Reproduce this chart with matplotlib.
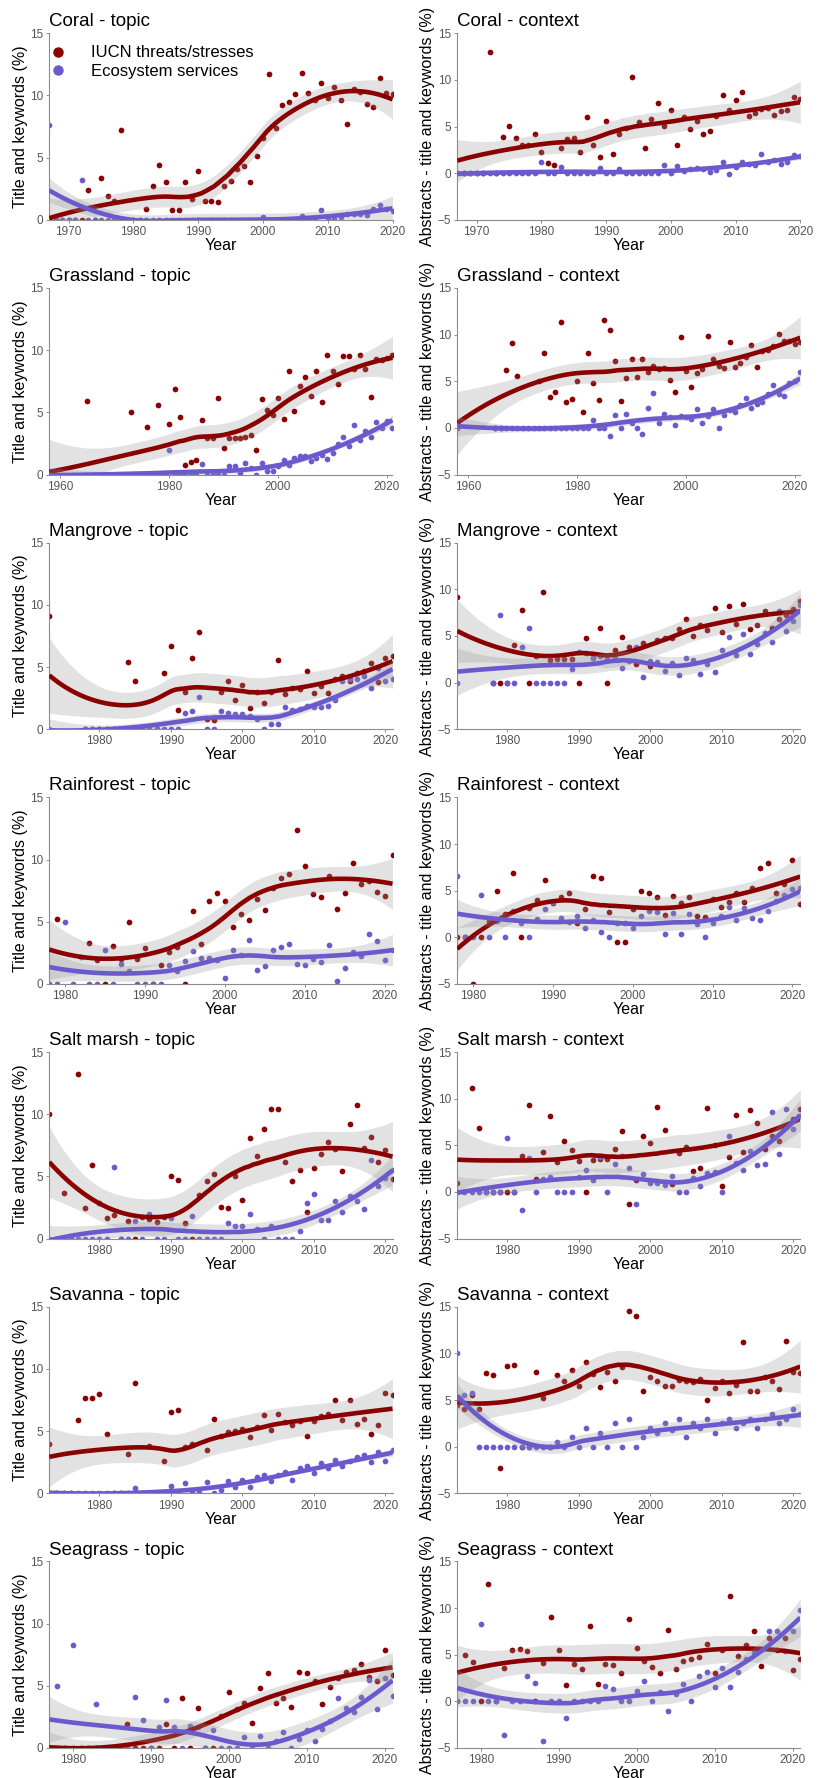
import numpy as np
import matplotlib
matplotlib.use('Agg')
import matplotlib.pyplot as plt
from matplotlib.lines import Line2D

plt.rcParams['font.family'] = ['Liberation Sans', 'DejaVu Sans']

nan = np.nan
RED = '#8B0000'
BLUE = '#6A5ACD'

# --- data: percentage of papers per year -------------------------------------
coral_years = list(range(1967, 2021))
coral_topic_threats = [0, 0, 0, 0, 0, 0, 2.4, 0, 3.4, 1.9,
                       1.5, 7.2, 0, 0, 0, 0.9, 2.75, 4.4, 3.05, 0.75,
                       0.75, 3.05, 1.7, 3.9, 1.55, 1.55, 1.45, 2.7, 3.15, 4.1,
                       4.3, 3.05, 5.1, 6.55, 11.7, 7.4, 9.2, 9.5, 10.1, 11.8,
                       10.2, 9.6, 11.0, 9.8, 10.7, 9.6, 7.7, 10.5, 10.3, 9.3,
                       9.1, 11.4, 10.2, 10.1]
coral_topic_services = [7.6, 0, 0, 0, 0, 3.2, 0, 0, 0, 0,
                        0, 0, 0, 0, 0, 0, 0, 0, 0, 0,
                        0, 0, 0, 0, 0, 0, 0, 0, 0, 0,
                        0, 0, 0, 0.25, 0, 0, 0, 0, 0, 0.3,
                        0, 0, 0.75, 0.1, 0.1, 0.2, 0.5, 0.5, 0.5, 0.35,
                        0.85, 1.2, 0.9, 0.7]
coral_context_threats = [0, 0, 0, 0, 0, 13.0, 0, 3.9, 5.1, 3.8,
                         3.0, 3.0, 4.2, 2.3, 1.1, 0.9, 2.7, 3.65, 3.8, 2.3,
                         6.0, 3.0, 1.75, 5.55, 2.05, 4.25, 4.8, 10.3, 5.45, 2.7,
                         5.8, 7.5, 5.05, 6.8, 3.0, 6.0, 4.75, 5.6, 4.15, 4.5,
                         6.1, 8.4, 6.8, 7.9, 8.7, 6.1, 6.4, 6.9, 7.0, 6.2,
                         6.65, 6.8, 8.2, 8.0]
coral_context_services = [0, 0, 0, 0, 0, 0, 0, 0, 0, 0,
                          0, 0, 0, 1.15, 0, 0, 0.7, 0, 0, 0,
                          0, 0, 0.6, 0, 0, 0.5, 0, 0, 0, 0,
                          0, 0, 0.85, 0, 0.75, 0.25, 0.45, 0.6, 0.4, 0.15,
                          0.3, 1.15, -0.05, 0.7, 1.2, 1.0, 0.85, 2.05, 1.2, 1.4,
                          1.0, 1.2, 1.9, 1.85]

grassland_years = list(range(1958, 2022))
grassland_topic_threats = [0, nan, nan, nan, nan, nan, nan, 5.9, 0, 0,
                           0, 0, 0, 0, 0, 5.0, 0, 0, 3.85, 0,
                           5.6, 0, 4.1, 6.9, 4.6, 0.78, 1.0, 1.15, 4.4, 2.9,
                           2.9, 6.15, 2.15, 2.9, 2.9, 2.9, 3.0, 3.15, 2.0, 6.05,
                           5.2, 4.8, 6.15, 4.45, 8.35, 5.1, 7.1, 7.85, 6.35, 8.3,
                           5.85, 9.6, 8.3, 7.3, 9.55, 9.5, 8.45, 9.6, 8.45, 6.25,
                           9.3, 9.2, 9.4, 9.6]
grassland_topic_services = [0, nan, nan, nan, nan, nan, nan, 0, 0, 0,
                            0, 0, 0, 0, 0, 0, 0, 0, 0, 0,
                            0, 0, 2.0, 0, 0, 0, 0, 0, 0.85, 0,
                            0, 0, 0, 0.7, 0.65, 0.1, 0.9, 0.5, 0, 0.95,
                            0.3, 0.3, 0.7, 1.15, 0.75, 1.3, 1.45, 1.5, 1.1, 1.35,
                            1.55, 1.25, 1.75, 2.45, 3.05, 2.3, 3.95, 2.8, 3.5, 3.0,
                            4.2, 3.7, 4.3, 3.75]
grassland_context_threats = [0, nan, nan, nan, nan, nan, nan, 0, 0, 6.2,
                             9.1, 5.55, nan, nan, nan, 5.0, 8.0, 3.3, 3.85, 11.4,
                             2.8, 3.1, 5.0, 1.7, 8.05, 4.8, 3.0, 11.6, 10.5, 7.15,
                             2.85, 5.35, 7.4, 5.45, 7.35, 6.0, 6.6, 6.3, 6.4, 5.1,
                             3.85, 9.75, 6.1, 4.4, 5.85, 6.3, 9.85, 7.4, 6.65, 6.45,
                             9.2, 6.5, 7.0, 7.6, 8.85, 6.5, 8.2, 8.4, 8.8, 10.1,
                             9.35, 9.3, 9.0, 9.2]
grassland_context_services = [0, nan, nan, nan, nan, nan, nan, 0, 0, 0,
                              0, 0, 0, 0, 0, 0, 0, 0, 0, 0,
                              0, 0, 0, 0, 0, 0.85, 0, 0, -0.9, 1.4,
                              0, 1.5, 0.5, 0, -0.65, 2.1, 3.7, 0.5, 1.45, 1.2,
                              0.3, 1.25, 1.2, 0.9, 2.0, 0.5, 1.3, 2.05, 0, 1.35,
                              1.9, 1.7, 2.5, 3.2, 2.1, 2.6, 2.8, 3.6, 4.6, 3.6,
                              3.4, 4.8, 5.0, 6.0]

mangrove_years = list(range(1973, 2022))
mangrove_topic_threats = [9.1, nan, nan, nan, nan, 0, 0, 0, 0, 0,
                          0, 5.4, 3.85, 0, 0, 0, 4.55, 6.7, 1.55, 3.0,
                          5.7, 7.8, 0.8, 0.75, 3.0, 3.85, 2.35, 3.55, 1.7, 3.0,
                          2.1, 3.0, 5.6, 2.8, 3.35, 3.2, 4.65, 2.95, 3.5, 2.95,
                          4.0, 4.3, 3.85, 4.5, 4.7, 5.3, 3.8, 5.7, 5.85]
mangrove_topic_services = [0, nan, nan, nan, nan, 0, 0, 0, 0, 0,
                           0, 0, 0, 0, 0, 0, 0, 0, 0, 1.3,
                           1.45, 2.6, 0, 0, 1.5, 1.3, 1.2, 1.2, 1.1, 0.85,
                           0, 0.45, 0.4, 1.75, 1.55, 1.65, 1.9, 1.75, 1.75, 1.85,
                           2.35, 3.85, 4.05, 4.05, 4.3, 3.3, 4.9, 3.9, 4.0]
mangrove_context_threats = [9.2, nan, nan, nan, nan, 0, 0, 0, 4.05, 7.8,
                            0, 2.9, 9.7, 2.4, 2.5, 2.5, 2.5, 0, 4.8, 2.6,
                            5.8, 0, 3.45, 4.85, 3.85, 1.95, 4.2, 1.8, 4.55, 4.8,
                            4.8, 5.7, 6.8, 4.95, 6.2, 5.65, 8.0, 5.45, 8.2, 6.3,
                            8.4, 5.75, 6.15, 7.7, 5.9, 6.85, 7.25, 7.9, 8.8]
mangrove_context_services = [0, nan, nan, nan, nan, 0, 7.2, 0, 0, 3.8,
                             5.9, 0, 0, 0, 0, 0, 1.5, 3.3, 3.2, 2.6,
                             2.85, 2.55, 2.6, 1.6, 2.3, 3.8, 0.6, 2.35, 2.25, 1.25,
                             2.1, 0.85, 2.65, 2.45, 0.9, 1.95, 1.1, 3.5, 4.85, 2.95,
                             5.2, 3.05, 4.15, 5.35, 4.4, 7.7, 5.5, 6.6, 8.3]

rainforest_years = list(range(1978, 2022))
rainforest_topic_threats = [0, 5.25, nan, nan, nan, 3.3, 1.9, 0, 3.05, 2.0,
                            4.95, 2.0, 2.85, 0, 1.55, 2.6, 3.0, 0, 5.9, 3.2,
                            6.7, 7.3, 6.7, 4.55, 5.6, 5.1, 6.8, 5.95, 7.7, 8.5,
                            8.8, 12.4, 9.5, 7.2, 6.95, 8.7, 6.0, 7.35, 9.75, 8.0,
                            8.25, 7.4, 7.1, 10.4]
rainforest_topic_services = [0, 0, 5.0, 0, 2.15, 0, 0, 2.7, 0, 1.6,
                             1.0, 0, 0, 0, 0, 1.5, 1.0, 1.85, 2.65, 2.1,
                             2.05, 1.9, 0.45, 2.7, 2.3, 3.55, 1.15, 1.45, 2.7, 3.0,
                             3.2, 1.6, 1.5, 2.0, 1.8, 3.15, 0.25, 1.3, 2.6, 2.25,
                             4.0, 3.45, 1.9, 2.7]
rainforest_context_threats = [0, 0, -5.0, 0, 1.7, 5.0, 2.5, 6.85, 0, 3.1,
                              4.0, 6.15, 3.7, 4.3, 4.7, 1.5, 3.0, 6.55, 6.4, 2.7,
                              -0.5, -0.5, 3.0, 5.0, 4.7, 4.35, 2.4, 4.45, 3.7, 4.3,
                              2.3, 2.2, 4.1, 3.2, 3.8, 4.75, 3.75, 5.3, 7.4, 8.0,
                              4.7, 5.7, 8.25, 3.55]
rainforest_context_services = [6.6, 0, 0, 4.5, 0, 1.7, 0, 2.8, 1.5, 0,
                               2.0, 3.05, 3.8, 2.1, 1.6, 2.25, 1.0, 1.8, 0.55, 0,
                               1.5, 1.5, 0.95, 2.3, 2.8, 2.75, 0.4, 2.6, 0.3, 2.45,
                               1.45, 0, 1.55, 2.3, 3.3, 1.8, 3.15, 2.1, 1.85, 2.8,
                               3.9, 4.5, 5.2, 5.25]

saltmarsh_years = list(range(1973, 2022))
saltmarsh_topic_threats = [10.0, 0, 3.7, 0, 13.2, 2.5, 5.9, 2.9, 1.65, 1.9,
                           0, 1.4, 0, 1.7, 1.6, 1.35, 1.7, 5.0, 4.75, 1.25,
                           0, 3.5, 4.65, 5.2, 2.55, 2.5, 5.0, 3.1, 8.1, 6.65,
                           8.8, 10.45, 10.45, 6.15, 4.6, 5.5, 2.1, 5.65, 6.8, 7.75,
                           7.2, 5.45, 9.2, 10.75, 7.3, 8.15, 6.15, 7.1, 4.8]
saltmarsh_topic_services = [0, 0, 0, 0, 0, 0, 0, 0, 0, 5.75,
                            0, 0, 1.45, 0, 2.0, 0, 0, 1.65, 0, 0,
                            1.85, 0, 0, 0, 0, 1.25, 1.0, 1.0, 2.0, 0.8,
                            0, 1.0, 0, 0, 0, 0.65, 2.85, 3.55, 1.5, 1.5,
                            3.0, 2.15, 3.4, 3.05, 2.4, 6.3, 4.25, 4.9, 5.5]
saltmarsh_context_threats = [1.0, nan, 11.15, 6.9, 0, 0, 0, 0, 0, 3.9,
                             9.3, 1.4, 4.3, 8.1, 3.2, 5.5, 4.55, 3.3, 0, 3.4,
                             3.5, 3.5, 4.65, 6.55, -1.3, 1.3, 6.05, 5.2, 9.1, 6.65,
                             0.85, 4.2, 4.85, 2.3, 2.6, 9.05, 5.0, 0.65, 3.75, 8.25,
                             4.3, 8.75, 7.45, 4.6, 6.0, 5.45, 7.0, 7.85, 8.9]
saltmarsh_context_services = [0, 0, 0, 0, 0, 0, 0, 5.75, 0, -1.95,
                              3.65, 0, 1.4, 1.6, 0, 0, 0, 1.65, 2.35, 1.25,
                              3.75, 0, 3.05, 3.85, 2.55, -1.25, 1.95, 1.0, 1.0, 0.8,
                              1.7, 0, 0, 1.55, 0.6, 2.05, 2.1, 0, 6.0, 3.1,
                              2.4, 4.35, 2.85, 3.0, 8.6, 4.05, 8.95, 6.7, 8.1]

savanna_years = list(range(1973, 2022))
savanna_topic_threats = [4.0, 0, 0, 0, 5.9, 7.7, 7.7, 8.0, 4.8, 0,
                         0, 3.2, 8.9, 0, 3.8, 0, 2.6, 6.5, 6.7, 3.7,
                         4.0, 0, 3.5, 6.0, 4.6, 4.9, 5.0, 5.2, 4.5, 5.3,
                         6.3, 5.1, 6.4, 5.7, 5.5, 5.8, 4.6, 5.8, 6.2, 6.4,
                         7.5, 5.9, 7.5, 5.6, 6.0, 4.8, 5.5, 8.1, 7.9]
savanna_topic_services = [0, 0, 0, 0, 0, 0, 0, 0, 0, 0,
                          0, 0, 0.4, 0, 0, 0, 0, 0.6, 0, 0.8,
                          0, 0, 0.9, 0, 0.3, 1.0, 0.5, 1.1, 0.5, 1.3,
                          1.5, 1.0, 1.5, 1.7, 1.1, 2.0, 2.2, 1.6, 2.4, 2.0,
                          2.7, 2.2, 2.6, 2.9, 3.1, 2.5, 3.3, 2.6, 3.5]
savanna_context_threats = [4.5, 4.0, 5.5, 4.0, 7.9, 7.7, -2.3, 8.7, 8.8, 0,
                           0, 8.0, 5.2, 0, 7.7, 7.0, 8.2, 6.5, 9.1, 7.8,
                           6.4, 8.0, 7.0, 8.5, 14.6, 14.0, 6.0, 7.5, 7.0, 6.5,
                           6.5, 7.2, 7.0, 6.9, 7.3, 5.0, 6.3, 7.0, 5.8, 6.6,
                           11.2, 6.0, 6.0, 7.5, 7.0, 6.2, 11.3, 8.0, 7.9]
savanna_context_services = [10.0, 5.5, 5.8, 0, 0, 0, 0, 0, 0, 0,
                            0, 0, 0, 0, 0.5, 0, 1.0, 0, 2.0, 0,
                            1.5, 0, 2.5, 0, 3.0, 0, 1.0, 2.0, 1.5, 2.5,
                            1.8, 3.0, 1.0, 2.5, 2.0, 3.0, 1.5, 2.5, 3.0, 2.0,
                            2.5, 3.0, 2.0, 3.0, 3.5, 2.5, 3.0, 4.0, 3.5]

seagrass_years = list(range(1977, 2022))
seagrass_topic_threats = [0, 0, 0, 0, 0, 0, 0, 0, 0, 0,
                          1.9, 0, 0, 0, 0, 1.9, 0, 4.0, 0, 3.25,
                          0, 0, 2.6, 4.5, 3.15, 3.6, 2.0, 4.8, 6.0, 3.6,
                          4.0, 3.3, 6.15, 6.0, 5.35, 3.5, 4.9, 5.6, 6.15, 6.3,
                          6.75, 5.75, 5.4, 7.85, 5.9]
seagrass_topic_services = [0, 5.0, 0, 8.3, 0, 0, 3.55, 0, 0, 0,
                           0, 4.1, 2.25, 0, 1.7, 3.9, 1.7, 0, 1.8, 1.65,
                           0, 1.45, 0, 0, 0, 0.9, 0, 0.95, 0, 0.6,
                           1.25, 0, 0.7, 1.45, 0.55, 1.5, 2.2, 4.05, 3.25, 2.9,
                           4.1, 5.45, 3.15, 5.65, 4.15]
seagrass_context_threats = [0, 5.0, 4.25, 0, 12.55, 0, 3.55, 5.5, 5.6, 5.45,
                            0, 4.1, 9.1, 5.55, 1.8, 4.0, 3.5, 8.05, 1.85, 4.0,
                            3.95, 3.0, 8.8, 5.7, 4.3, 3.7, 3.0, 7.7, 3.5, 4.3,
                            4.5, 4.75, 6.2, 3.05, 5.5, 11.25, 4.9, 6.0, 7.5, 3.75,
                            6.8, 5.5, 6.75, 3.35, 4.5]
seagrass_context_services = [0, 0, 0, 8.35, 0, 0, -3.6, 0, 0, 2.75,
                             1.95, -4.2, 0, 0, -1.8, 0, 0, 0, 0, 1.65,
                             1.3, 0, 0, 1.15, 2.15, 0, 1.05, -1.0, 0.8, 1.85,
                             0, 2.75, 3.1, 1.5, 3.6, 1.5, 3.1, 4.5, 5.3, 5.5,
                             7.5, 7.5, 5.45, 7.5, 9.85]

habitats = ['Coral', 'Grassland', 'Mangrove', 'Rainforest', 'Salt marsh', 'Savanna', 'Seagrass']
panels = [
    (coral_years, coral_topic_threats, coral_topic_services, coral_context_threats, coral_context_services),
    (grassland_years, grassland_topic_threats, grassland_topic_services, grassland_context_threats, grassland_context_services),
    (mangrove_years, mangrove_topic_threats, mangrove_topic_services, mangrove_context_threats, mangrove_context_services),
    (rainforest_years, rainforest_topic_threats, rainforest_topic_services, rainforest_context_threats, rainforest_context_services),
    (saltmarsh_years, saltmarsh_topic_threats, saltmarsh_topic_services, saltmarsh_context_threats, saltmarsh_context_services),
    (savanna_years, savanna_topic_threats, savanna_topic_services, savanna_context_threats, savanna_context_services),
    (seagrass_years, seagrass_topic_threats, seagrass_topic_services, seagrass_context_threats, seagrass_context_services),
]
tick_step = [10, 20, 10, 10, 10, 10, 10]


def loess(x, y, xs, span=0.75):
    # local quadratic fit with tricube weights, like R's loess / geom_smooth
    n = len(x)
    q = int(np.floor(n * span))

    def op(x0):
        d = np.abs(x - x0)
        h = np.sort(d)[q - 1] * 1.0001
        u = d / h
        w = np.where(u < 1, (1 - u ** 3) ** 3, 0.0)
        X = np.column_stack([np.ones(n), x - x0, (x - x0) ** 2])
        XtW = X.T * w
        return np.linalg.solve(XtW @ X, XtW)[0]

    L = np.array([op(v) for v in x])
    M = np.eye(n) - L
    MtM = M.T @ M
    d1 = np.trace(MtM)
    d2 = np.trace(MtM @ MtM)
    sigma = np.sqrt(np.sum((M @ y) ** 2) / d1)
    df = d1 ** 2 / d2
    z = 1.959964
    t = z + (z ** 3 + z) / (4 * df) + (5 * z ** 5 + 16 * z ** 3 + 3 * z) / (96 * df ** 2)
    Ls = np.array([op(v) for v in xs])
    fit = Ls @ y
    se = sigma * np.sqrt(np.sum(Ls ** 2, axis=1))
    return fit, fit - t * se, fit + t * se


def smooth(ax, years, values, color, z):
    x = np.asarray(years, dtype=float)
    y = np.asarray(values, dtype=float)
    ok = np.isfinite(y)
    x, y = x[ok], y[ok]
    xs = np.linspace(x.min(), x.max(), 80)
    fit, lo, hi = loess(x, y, xs)
    ax.fill_between(xs, lo, hi, color='#999999', alpha=0.28, lw=0, zorder=z)
    ax.plot(xs, fit, color=color, lw=3.3, zorder=z + 1, solid_capstyle='butt')


W, H = 823, 1778
fig = plt.figure(figsize=(W / 100, H / 100), dpi=100)

for i, (name, data, step) in enumerate(zip(habitats, panels, tick_step)):
    years = data[0]
    top = 33.3 + 254.7 * i
    h = 186.5
    for j, kind in enumerate(['topic', 'context']):
        threats, services = data[1 + 2 * j], data[2 + 2 * j]
        x0, x1 = (49.3, 392.5) if j == 0 else (457.3, 800.3)
        ax = fig.add_axes([x0 / W, 1 - (top + h) / H, (x1 - x0) / W, h / H])

        ax.scatter(years, threats, s=17, color=RED, lw=0, zorder=2)
        ax.scatter(years, services, s=17, color=BLUE, lw=0, zorder=2)
        smooth(ax, years, threats, RED, 3)
        smooth(ax, years, services, BLUE, 5)

        ax.set_xlim(years[0], years[-1])
        if j == 0:
            ax.set_ylim(0, 15)
            ax.set_yticks([0, 5, 10, 15])
            ax.set_ylabel('Title and keywords (%)', fontsize=11.5, labelpad=1.5)
        else:
            ax.set_ylim(-5, 15)
            ax.set_yticks([-5, 0, 5, 10, 15])
            ax.set_ylabel('Abstracts - title and keywords (%)', fontsize=11.5, labelpad=1.5)
        first = int(np.ceil(years[0] / step) * step)
        ax.set_xticks(list(range(first, years[-1] + 1, step)))
        ax.set_xlabel('Year', fontsize=11.5, labelpad=0)
        ax.set_title(f'{name} - {kind}', loc='left', fontsize=13.5, pad=5)

        for s in ['top', 'right']:
            ax.spines[s].set_visible(False)
        for s in ['left', 'bottom']:
            ax.spines[s].set_color('#8C8C8C')
            ax.spines[s].set_linewidth(0.8)
        ax.tick_params(length=2.5, width=0.7, color='#8C8C8C', labelcolor='#555555',
                       labelsize=8.5, pad=2)

        if i == 0 and j == 0:
            handles = [Line2D([], [], ls='', marker='o', color=RED, markersize=6.5),
                       Line2D([], [], ls='', marker='o', color=BLUE, markersize=6.5)]
            ax.legend(handles, ['IUCN threats/stresses', 'Ecosystem services'],
                      loc='upper left', bbox_to_anchor=(0.0, 0.935), frameon=False,
                      fontsize=12, handlelength=1.0, handletextpad=1.5,
                      labelspacing=0.2, borderaxespad=0, borderpad=0)

fig.savefig('out.png', dpi=100)
